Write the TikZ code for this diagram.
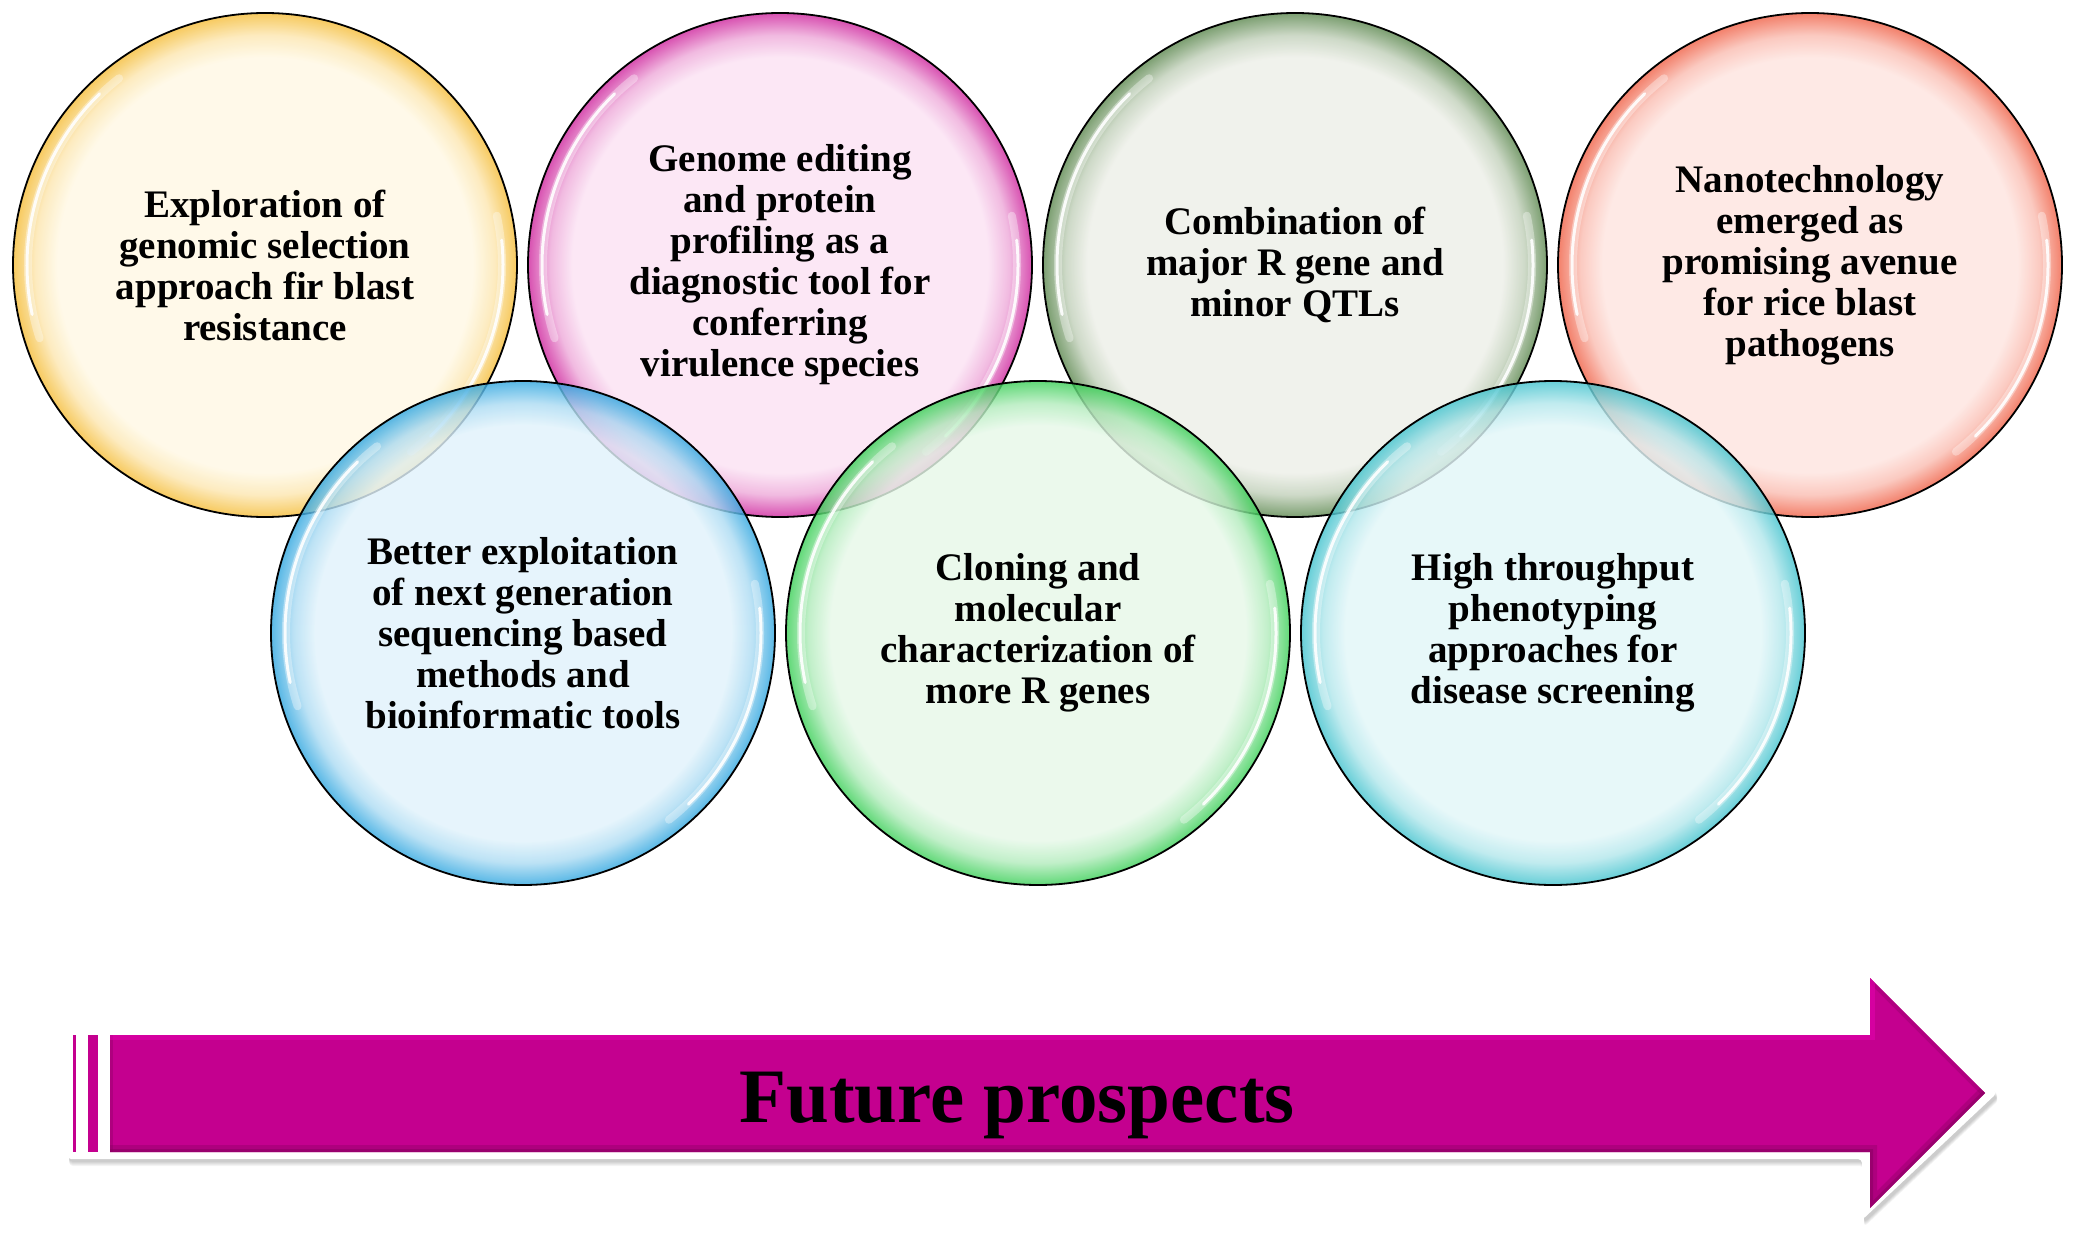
\documentclass[tikz,border=0pt]{standalone}
\usepackage{fontspec}
\setmainfont{Liberation Serif}
\definecolor{yRim}{HTML}{F5BE3C}\definecolor{yIn}{HTML}{FFF8E4}
\definecolor{pRim}{HTML}{CF2A9F}\definecolor{pIn}{HTML}{FBE2F3}
\definecolor{oRim}{HTML}{5F8A52}\definecolor{oIn}{HTML}{EDEFE8}
\definecolor{rRim}{HTML}{F0644A}\definecolor{rIn}{HTML}{FEE4DF}
\definecolor{bRim}{HTML}{34A8E0}\definecolor{bIn}{HTML}{E1F2FB}
\definecolor{gRim}{HTML}{3ED05A}\definecolor{gIn}{HTML}{E6F8E8}
\definecolor{cRim}{HTML}{46C4CF}\definecolor{cIn}{HTML}{E2F6F8}
\definecolor{mag}{HTML}{C4008F}
\definecolor{magD}{HTML}{85005F}
\definecolor{magL}{HTML}{E400AE}
\newcommand\mkbub[3]{\pgfdeclareradialshading{#1}{\pgfpoint{0bp}{0bp}}{color(0bp)=(#3); color(20.6bp)=(#3); color(22.8bp)=(#2!30!#3); color(24.2bp)=(#2!75!#3); color(25bp)=(#2); color(50bp)=(#2)}}
\mkbub{bubY}{yRim}{yIn}
\mkbub{bubP}{pRim}{pIn}
\mkbub{bubO}{oRim}{oIn}
\mkbub{bubR}{rRim}{rIn}
\mkbub{bubB}{bRim}{bIn}
\mkbub{bubG}{gRim}{gIn}
\mkbub{bubC}{cRim}{cIn}
\tikzset{
  bub/.style={circle, minimum size=504pt, inner sep=0pt, draw=black, line width=1.8pt,
    shade, shading=#1, fill opacity=0.82, text opacity=1, align=center,
    font=\fontsize{39}{41}\selectfont\bfseries},
  glossA/.style={white, line width=8pt, opacity=.35, line cap=round},
  glossB/.style={white, line width=3pt, opacity=.9, line cap=round},
}
% y axis points down: angle t here is drawn at visual angle -t
\newcommand\gloss[1]{%
  \draw[glossA] ([shift={(162:237)}]#1.center) arc[start angle=162,end angle=232,radius=237];
  \draw[glossB] ([shift={(168:238)}]#1.center) arc[start angle=168,end angle=226,radius=238];
  \draw[glossA] ([shift={(-12:237)}]#1.center) arc[start angle=-12,end angle=52,radius=237];
  \draw[glossB] ([shift={(-6:238)}]#1.center) arc[start angle=-6,end angle=46,radius=238];
}
\begin{document}
\begin{tikzpicture}[x=1pt,y=-1pt]
\useasboundingbox (0,0) rectangle (2081,1252);
% top row
\node[bub=bubY] (c1) at (265,265) {Exploration of\\genomic selection\\approach fir blast\\resistance};
\gloss{c1}
\node[bub=bubP] (c2) at (780,265) {Genome editing\\and protein\\profiling as a\\diagnostic tool for\\conferring\\virulence species};
\gloss{c2}
\node[bub=bubO] (c3) at (1295,265) {Combination of\\major R gene and\\minor QTLs};
\gloss{c3}
\node[bub=bubR] (c4) at (1810,265) {Nanotechnology\\emerged as\\promising avenue\\for rice blast\\pathogens};
\gloss{c4}
% bottom row
\node[bub=bubB] (c5) at (523,633) {Better exploitation\\of next generation\\sequencing based\\methods and\\bioinformatic tools};
\gloss{c5}
\node[bub=bubG] (c6) at (1038,633) {Cloning and\\molecular\\characterization of\\more R genes};
\gloss{c6}
\node[bub=bubC] (c7) at (1553,633) {High throughput\\phenotyping\\approaches for\\disease screening};
\gloss{c7}
% arrow
\foreach \k in {1,...,5}{
  \fill[black, opacity=0.045, rounded corners=4pt, shift={(2,2+\k)}]
    (67,1028) -- (1862,1028) -- (1862,966) -- (1997,1093) -- (1862,1220) -- (1862,1159) -- (67,1159) -- cycle;
}
\fill[white, rounded corners=4pt]
  (67,1028) -- (1862,1028) -- (1862,966) -- (1997,1093) -- (1862,1220) -- (1862,1159) -- (67,1159) -- cycle;
\fill[mag] (73,1035) rectangle (76,1152);
\fill[mag] (88,1035) rectangle (98,1152);
\fill[mag] (110,1035) -- (1870,1035) -- (1870,978) -- (1985,1093) -- (1870,1208) -- (1870,1152) -- (110,1152) -- cycle;
\begin{scope}
  \clip (110,1035) -- (1870,1035) -- (1870,978) -- (1985,1093) -- (1870,1208) -- (1870,1152) -- (110,1152) -- cycle;
  \draw[magD, line width=14pt, opacity=.35, line join=miter] (110,1152) -- (1870,1152) -- (1870,1208) -- (1985,1093);
  \draw[magD, line width=6pt, opacity=.5, line join=miter] (110,1152) -- (1870,1152) -- (1870,1208) -- (1985,1093);
  \draw[magD, line width=8pt, opacity=.3] (1870,978) -- (1985,1093);
  \draw[magD, line width=6pt, opacity=.35] (110,1035) -- (110,1152);
  \draw[magL, line width=10pt, opacity=.55] (110,1035) -- (1870,1035) -- (1870,978);
\end{scope}
\node[font=\fontsize{77}{80}\selectfont\bfseries, anchor=base] (title) at (1017,1122) {Future prospects};
\end{tikzpicture}
\end{document}
